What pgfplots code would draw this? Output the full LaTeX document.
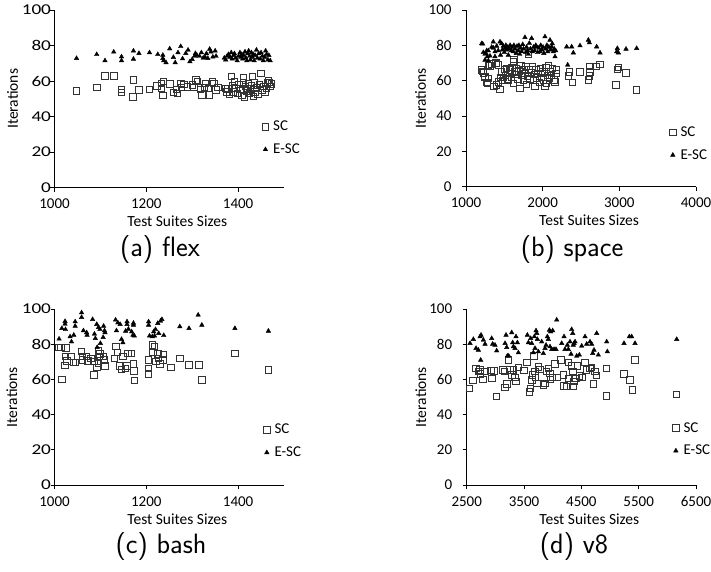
\documentclass[border=0pt]{standalone}
\usepackage{pgfplots}
\pgfplotsset{compat=1.18}
\usepackage{fontspec}
\setmainfont{Carlito}
\newfontfamily\widefont[FakeStretch=1.28]{Carlito}
\tikzset{subcap/.style={font=\sffamily\fontsize{28}{32}\selectfont, anchor=base, inner sep=0pt}}
\pgfplotsset{
  myaxis/.style={
    scale only axis,
    axis lines=left,
    axis line style={-, line width=0.8pt, black},
    tick align=outside,
    major tick length=4pt,
    tick style={line width=0.8pt, black},
    ymin=0, ymax=100, ytick={0,20,...,100},
    /pgf/number format/assume math mode=true,
    /pgf/number format/1000 sep={},
    ticklabel style={font=\fontsize{15}{18}\selectfont},
    xticklabel shift=4pt,
    label style={font=\fontsize{15.5}{18}\selectfont, inner sep=1pt},
    xlabel={Test Suites Sizes},
    ylabel={Iterations},
    xlabel style={at={(axis description cs:0.535,0)}, anchor=center, yshift=-34pt},
    legend cell align=left,
    legend style={draw=none, fill=none, inner sep=0pt, anchor=north west,
      font=\fontsize{15}{17}\selectfont, row sep=7.5pt,
      /tikz/every odd column/.append style={column sep=1.5pt}},
    legend image code/.code={\path (-4pt,0pt) (4pt,0pt); \draw[#1] plot coordinates {(0pt,0pt)};},
  },
  wideaxis/.style={
    yticklabel style={font=\widefont\fontsize{15}{18}\selectfont},
    yticklabel shift=-4pt,
  },
  narrowaxis/.style={
    yticklabel shift=7pt,
  },
  sc/.style={only marks, mark=square, mark size=3.2pt, mark options={draw=black!80, line width=0.8pt, fill=none}},
  esc/.style={only marks, mark=triangle*, mark size=2.6pt, mark options={fill=black, draw=black}},
}
\begin{document}
\begin{tikzpicture}
\useasboundingbox (0,0) rectangle (711pt,571pt);
% (a) flex
\begin{axis}[myaxis, wideaxis, at={(54.5pt,383.3pt)}, anchor=south west, width=229.5pt, height=177.7pt,
  xmin=1000, xmax=1500, xtick={1000,1200,1400},
  ylabel style={at={(axis description cs:-0.183,0.5)}, anchor=center},
  legend style={at={(axis description cs:0.900,0.387)}}]
\addplot[sc] coordinates {
(1048,54.4) (1092,56.3) (1110,62.9) (1129,62.9) (1146,55.3) (1146,53.5) (1172,60.6) (1171,51.2)
(1184,55) (1207,55.3) (1223,57.2) (1233,58.7) (1233,55.9) (1237,59.7) (1236,51.8) (1251,58.3)
(1259,53.5) (1265,55.3) (1268,53) (1275,58.7) (1277,56.5) (1282,58) (1290,56.8) (1300,57.8)
(1304,56.5) (1308,60.6) (1311,59.7) (1318,55.3) (1321,52.2) (1326,56.5) (1329,58.7) (1335,55.9)
(1338,52.2) (1344,59.5) (1347,58.7) (1352,55) (1356,56.5) (1372,56) (1375,54) (1378,55.5)
(1381,52.5) (1385,62.5) (1388,57.5) (1390,54) (1392,59.7) (1395,56) (1398,53) (1402,58)
(1405,55.5) (1408,52) (1411,59) (1412,61.9) (1414,51.2) (1416,57) (1418,54.5) (1420,56)
(1423,58.5) (1425,53) (1427,55.5) (1429,57.5) (1431,62.5) (1433,51.5) (1435,59) (1437,54)
(1440,56.5) (1443,52.5) (1446,58) (1450,64.4) (1452,55) (1455,57) (1458,53.5) (1461,56)
(1464,59) (1466,60.5) (1468,59.3) (1470,57) (1472,58.5)
};
\addlegendentry{SC}
\addplot[esc] coordinates {
(1048,72.8) (1092,75) (1110,71.5) (1129,76.4) (1146,73.7) (1146,71.5) (1172,77) (1172,72.4)
(1184,75.6) (1207,76) (1225,75) (1236,74.6) (1236,72.8) (1238,71.5) (1243,70.4) (1251,78.2)
(1259,73.4) (1263,70.4) (1269,76) (1275,79.5) (1279,72.6) (1286,75.6) (1291,77.5) (1295,71)
(1300,72.2) (1305,74) (1307,75.6) (1310,74.6) (1316,74) (1320,76) (1324,73) (1328,73.5)
(1331,75.5) (1334,72.8) (1338,78) (1341,76.5) (1345,73.6) (1350,77) (1352,74) (1370,73)
(1373,72) (1376,74) (1379,75) (1382,73.5) (1385,76) (1387,72.5) (1390,74.5) (1392,75.5)
(1395,73) (1398,71.5) (1401,74) (1404,76) (1406,73.5) (1408,75) (1410,72.5) (1412,74.5)
(1415,76.5) (1417,73) (1419,71.5) (1421,75.5) (1423,77) (1425,74) (1427,72) (1429,76)
(1431,73.5) (1433,75) (1435,71.5) (1437,74.5) (1440,77.5) (1442,73) (1445,75.5) (1448,72.5)
(1450,76) (1453,74) (1455,71.5) (1458,73.5) (1460,77) (1462,75) (1465,72) (1467,74.5) (1470,71.5)
};
\addlegendentry{E-SC}
\end{axis}
% (b) space
\begin{axis}[myaxis, narrowaxis, at={(466pt,384.3pt)}, anchor=south west, width=230pt, height=176.7pt,
  xmin=1000, xmax=4000, xtick={1000,2000,3000,4000},
  ylabel style={at={(axis description cs:-0.197,0.5)}, anchor=center},
  legend style={at={(axis description cs:0.880,0.352)}}]
\addplot[sc] coordinates {
(1204,66) (1218,65.1) (1226,64.5) (1248,61.9) (1248,62.3) (1270,58.9) (1278,58.5) (1291,61.3)
(1291,68.6) (1313,68.3) (1335,69.6) (1365,56.6) (1391,70) (1391,69.8) (1400,57.5) (1421,68.9)
(1422,59.4) (1443,55.1) (1450,62) (1465,65) (1478,60) (1487,62) (1500,66.5) (1515,63)
(1530,67) (1540,61) (1552,60.4) (1565,66) (1574,64.2) (1590,62) (1600,67.5) (1617,58.5)
(1617,70.7) (1625,72) (1635,65) (1650,63.5) (1660,67) (1675,61) (1690,65.5) (1704,55.7)
(1715,68.5) (1730,63) (1745,60.5) (1755,66) (1770,64) (1780,68) (1790,58) (1800,62.5)
(1813,75) (1820,66.5) (1835,61) (1850,64.5) (1865,68) (1880,60) (1890,63.5) (1900,56.6)
(1910,66) (1925,61.5) (1940,64) (1955,59) (1970,67) (1985,62) (2000,65) (2010,60.5)
(2030,56.6) (2040,67.5) (2052,58.5) (2060,63) (2075,68.5) (2090,61.5) (2100,65) (2115,63)
(2130,67) (2145,60.5) (2161,59.4) (2170,64) (2180,66) (2335,62.6) (2348,65) (2391,58.9)
(2487,65) (2596,60.4) (2609,62.6) (2617,65) (2609,68) (2704,68) (2748,69.2) (2957,57.5)
(2974,66.4) (2987,67.5) (3087,64.5) (3226,54.7)
};
\addlegendentry{SC}
\addplot[esc] coordinates {
(1204,81) (1218,80.8) (1226,76) (1248,71.7) (1248,75) (1261,75.5) (1270,77) (1278,73.6)
(1291,71.3) (1291,77) (1313,74) (1335,79) (1356,82) (1357,78.5) (1378,73.6) (1378,76.4)
(1400,79.6) (1420,77) (1443,82) (1450,74.5) (1465,81) (1475,77.5) (1487,79.6) (1500,76)
(1509,78.3) (1520,80) (1530,77.5) (1545,79) (1552,74.5) (1560,78) (1575,80) (1590,77)
(1600,79) (1615,76.5) (1625,80) (1640,78) (1655,75.5) (1665,79.5) (1680,77) (1690,80)
(1700,75) (1712,78.5) (1725,76.5) (1740,80.5) (1750,78) (1769,84.5) (1780,76) (1790,79)
(1800,77) (1813,75) (1826,81.2) (1840,78) (1856,84) (1865,76.5) (1880,79) (1895,77)
(1910,80) (1921,79.2) (1935,76) (1950,78.5) (1965,76.4) (1975,80) (1990,77.5) (2005,79)
(2015,75.5) (2030,84.9) (2040,78) (2055,80) (2065,76.5) (2080,79) (2095,83) (2105,77.5)
(2117,79.2) (2125,81) (2139,76.4) (2150,78) (2161,73.6) (2170,77) (2326,68.9) (2313,79.2)
(2378,79.2) (2400,75.8) (2487,79.8) (2596,83) (2609,81.5) (2704,79.2) (2748,75.8) (2965,76.4)
(2974,78.3) (2987,75.8) (3087,77.9) (3226,78.3)
};
\addlegendentry{E-SC}
\end{axis}
% (c) bash
\begin{axis}[myaxis, wideaxis, at={(54.5pt,86pt)}, anchor=south west, width=229.5pt, height=176pt,
  xmin=1000, xmax=1500, xtick={1000,1200,1400},
  ylabel style={at={(axis description cs:-0.186,0.5)}, anchor=center},
  legend style={at={(axis description cs:0.906,0.358)}}]
\addplot[sc] coordinates {
(1009,78.2) (1014,78.2) (1016,60) (1023,68) (1024,72.9) (1025,78) (1027,70.6) (1036,72.9)
(1041,69.5) (1045,69.5) (1059,75.8) (1061,72.9) (1061,71) (1070,72.9) (1073,70.5) (1079,72)
(1086,70.1) (1086,62.5) (1092,66.9) (1095,76.1) (1096,69.1) (1097,72.9) (1099,74.4) (1106,72.9)
(1108,71) (1110,67.6) (1131,72) (1134,78.6) (1137,75.4) (1142,67.6) (1146,65.7) (1149,72.9)
(1155,66.3) (1158,67.6) (1160,74.8) (1167,74.8) (1172,68.8) (1173,64.8) (1174,59.3) (1205,71)
(1205,66.3) (1205,63.1) (1213,79.5) (1214,75.4) (1218,78.6) (1221,70.1) (1225,74.4) (1227,72)
(1230,68.8) (1236,71) (1237,74.2) (1254,66.9) (1273,72) (1293,68.2) (1315,68.2) (1321,59.7)
(1393,74.8) (1466,65.3)
};
\addlegendentry{SC}
\addplot[esc] coordinates {
(1010,83) (1016,89) (1023,93) (1023,91.5) (1024,88.4) (1034,84.3) (1037,81.4) (1042,85.2)
(1045,92.8) (1045,90.3) (1059,97.9) (1059,95.3) (1063,87.7) (1070,86.6) (1071,85.2) (1083,94.1)
(1087,85.8) (1089,83.3) (1092,91.3) (1093,78.2) (1096,89.6) (1099,88.4) (1100,80.5) (1106,83.9)
(1107,90.3) (1109,87.7) (1110,86.6) (1133,93.8) (1135,87.7) (1138,92.2) (1143,91.3) (1146,82.8)
(1149,80.9) (1155,87.5) (1158,92.8) (1158,91.3) (1161,88.6) (1168,87.1) (1171,85.2) (1172,92)
(1172,90.9) (1174,84.7) (1205,92.8) (1205,90.9) (1207,84.7) (1213,84.3) (1216,87.1) (1218,84.7)
(1220,88.4) (1225,91.9) (1227,86.2) (1231,93.2) (1234,94.1) (1238,85) (1273,90) (1293,89)
(1313,96.6) (1321,90.9) (1393,89) (1466,87.5)
};
\addlegendentry{E-SC}
\end{axis}
% (d) v8
\begin{axis}[myaxis, narrowaxis, at={(466.7pt,86pt)}, anchor=south west, width=229.3pt, height=176pt,
  xmin=2500, xmax=6500, xtick={2500,3500,4500,5500,6500},
  ylabel style={at={(axis description cs:-0.2,0.5)}, anchor=center},
  legend style={at={(axis description cs:0.893,0.368)}}]
\addplot[sc] coordinates {
(2547,54.9) (2605,59.3) (2663,66.3) (2703,64.4) (2733,65.3) (2744,63.1) (2779,60) (2820,64.4)
(2919,65) (2936,60.6) (2977,64.8) (3023,50.2) (3128,65.3) (3157,64.4) (3169,55.5) (3198,57.4)
(3227,71) (3256,65.3) (3285,62.5) (3314,65.3) (3343,61.2) (3360,58.7) (3401,66.9) (3500,65)
(3547,69.5) (3593,53) (3616,54.9) (3634,59.7) (3651,62.5) (3674,73.3) (3692,64.4) (3703,61.2)
(3721,57.8) (3750,67.2) (3779,65.7) (3837,56.8) (3866,57.8) (3895,64.4) (3924,66.3) (3953,63.4)
(3965,60) (4000,61.2) (4041,68.8) (4070,61.2) (4140,71) (4186,62.5) (4198,56.2) (4244,55.9)
(4273,69.5) (4279,60.6) (4331,67.6) (4349,64.4) (4360,55.9) (4372,58.7) (4407,60.6) (4430,67.6)
(4465,61.9) (4506,61.2) (4564,69.5) (4593,65.3) (4651,66.3) (4680,66.9) (4709,57.4) (4738,64.4)
(4767,62.3) (4942,66.3) (4942,50.6) (5244,63.1) (5349,59.7) (5395,54) (5436,71) (6163,51.5)
};
\addlegendentry{SC}
\addplot[esc] coordinates {
(2558,80.5) (2616,82.8) (2663,77.7) (2703,76.7) (2733,84.3) (2750,85.2) (2744,71) (2791,82.4)
(2820,80.1) (2936,83.3) (2953,80.1) (2994,79.5) (3023,76.3) (3169,80.5) (3186,85.2) (3198,78.2)
(3209,73.3) (3233,73.3) (3285,86.6) (3302,80.9) (3314,78.6) (3343,77.7) (3360,84.3) (3384,80.9)
(3401,75.2) (3558,85.2) (3576,80.9) (3616,83.3) (3634,80.5) (3663,75.2) (3680,84.3) (3692,77.7)
(3709,87.7) (3721,86.2) (3733,82.8) (3750,75.8) (3808,81.4) (3837,74.8) (3866,77.7) (3884,79.5)
(3907,84.3) (3924,82.8) (3942,88) (3965,87.1) (3953,78.6) (3983,77.1) (4000,87.7) (4023,77.1)
(4058,77.1) (4070,93.8) (4157,80.5) (4198,84.3) (4215,77.1) (4256,79.5) (4273,77.1) (4302,81.4)
(4320,74.4) (4331,88.4) (4349,86.2) (4360,79.5) (4372,80.5) (4390,81.4) (4419,73.3) (4465,73.9)
(4506,79) (4564,84.3) (4593,80.1) (4651,81.4) (4680,80.1) (4698,74.8) (4721,76.7) (4767,86.2)
(4796,73.9) (4942,81.4) (4953,75.8) (5244,80.5) (5337,84.3) (5378,84.3) (5436,80.5) (6163,82.8)
};
\addlegendentry{E-SC}
\end{axis}
\node[subcap] at (160pt,314.6pt) {(a) flex};
\node[subcap] at (572pt,314.6pt) {(b) space};
\node[subcap] at (161pt,17.3pt) {(c) bash};
\node[subcap] at (574pt,17.3pt) {(d) v8};
\end{tikzpicture}
\end{document}
